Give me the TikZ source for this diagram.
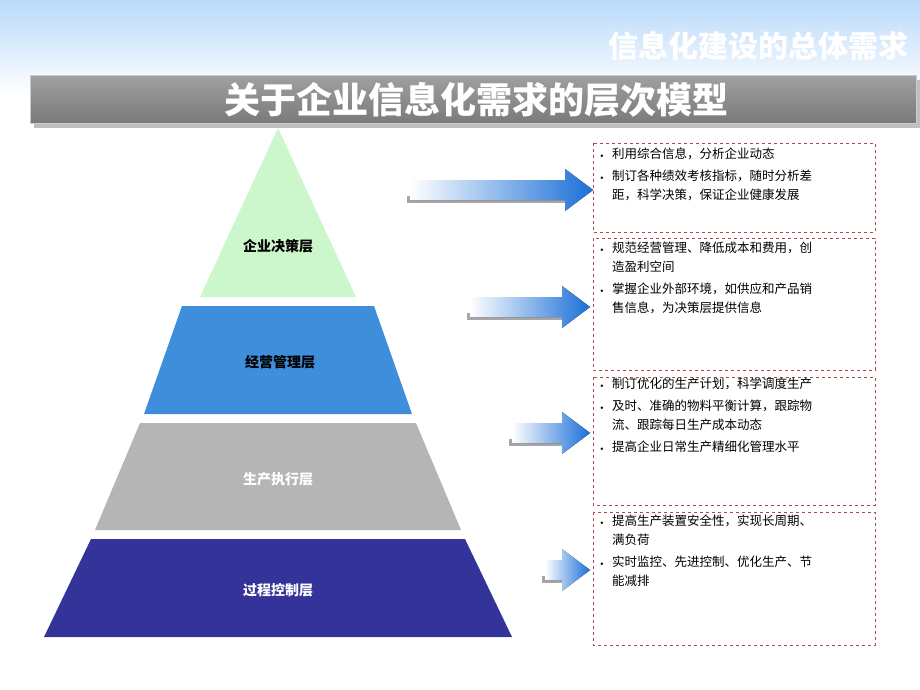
\documentclass[tikz,border=0pt]{standalone}
\usepackage{fontspec}
\setmainfont{Noto Sans CJK SC}
\usetikzlibrary{shadows}
\definecolor{tgreen}{HTML}{CCF7CC}
\definecolor{tblue}{HTML}{3E8EDC}
\definecolor{tgray}{HTML}{B5B5B5}
\definecolor{tnavy}{HTML}{33339A}
\definecolor{abl}{HTML}{1A6FD8}
\definecolor{dred}{HTML}{B04A4A}
\tikzset{
  tier/.style={draw=none},
  tlabel/.style={font=\bfseries\fontsize{14}{16}\selectfont},
  infobox/.style={draw=dred, dashed, line width=0.8pt, anchor=north west},
  infotext/.style={anchor=north west, text width=262pt, align=left, font=\fontsize{12.5}{19}\selectfont, inner sep=0pt},
}
\newcommand{\bul}{\makebox[12pt][l]{\raisebox{1pt}{\tiny$\bullet$}}}
\newcommand{\myarrow}[4]{% name, x0, x1, y
  \fill[gray!70] (#2-3,#4+13) rectangle (#3-25,#4+6);
  \fill[left color=white, right color=abl] (#2,#4-10) -- (#3-28,#4-10) -- (#3-28,#4-21) -- (#3,#4) -- (#3-28,#4+21) -- (#3-28,#4+10) -- (#2,#4+10) -- cycle;
  \coordinate (#1) at (#3,#4);
}
\begin{document}
\begin{tikzpicture}[x=1pt,y=-1pt]
\useasboundingbox (0,0) rectangle (920,690);
\fill[top color={rgb,255:red,185;green,218;blue,250}, bottom color=white] (0,0) rectangle (920,95);
\node[text=white, font=\bfseries\fontsize{30}{32}\selectfont, anchor=east] (hdr) at (912,46) {信息化建设的总体需求};
\fill[gray!50] (34,80) rectangle (920,128);
\shade[top color=gray!75, bottom color=gray!95!black, draw=gray!40, line width=1pt] (30,76) rectangle (916,124);
\node[text=white, font=\bfseries\fontsize{36}{38}\selectfont] (title) at (476,100) {关于企业信息化需求的层次模型};
% pyramid
\fill[tgreen] (278,128) -- (356,297) -- (200,297) -- cycle;
\fill[tblue] (182,306) -- (374,306) -- (412,414) -- (144,414) -- cycle;
\fill[tgray] (140,423) -- (416,423) -- (461,530) -- (95,530) -- cycle;
\fill[tnavy] (91,539) -- (465,539) -- (512,637) -- (44,637) -- cycle;
\node[tlabel] (t1) at (278,246) {企业决策层};
\node[tlabel] (t2) at (280,362) {经营管理层};
\node[tlabel, text=white] (t3) at (278,479) {生产执行层};
\node[tlabel, text=white] (t4) at (278,590) {过程控制层};
% boxes
\draw[infobox] (593,143) rectangle (875,232);
\draw[infobox] (593,238) rectangle (875,370);
\draw[infobox] (593,377) rectangle (875,505);
\draw[infobox] (593,512) rectangle (875,645);
\node[infotext] (b1) at (600,148) {\bul 利用综合信息，分析企业动态\\[3pt]\bul 制订各种绩效考核指标，随时分析差\\\hspace*{12pt}距，科学决策，保证企业健康发展};
\node[infotext] (b2) at (600,242) {\bul 规范经营管理、降低成本和费用，创\\\hspace*{12pt}造盈利空间\\[3pt]\bul 掌握企业外部环境，如供应和产品销\\\hspace*{12pt}售信息，为决策层提供信息};
\node[infotext] (b3) at (600,378) {\bul 制订优化的生产计划，科学调度生产\\[3pt]\bul 及时、准确的物料平衡计算，跟踪物\\\hspace*{12pt}流、跟踪每日生产成本动态\\[3pt]\bul 提高企业日常生产精细化管理水平};
\node[infotext] (b4) at (600,515) {\bul 提高生产装置安全性，实现长周期、\\\hspace*{12pt}满负荷\\[3pt]\bul 实时监控、先进控制、优化生产、节\\\hspace*{12pt}能减排};
\myarrow{a1}{410}{593}{190}
\myarrow{a2}{470}{590}{307}
\myarrow{a3}{512}{590}{433}
\myarrow{a4}{545}{590}{570}
\end{tikzpicture}
\end{document}
